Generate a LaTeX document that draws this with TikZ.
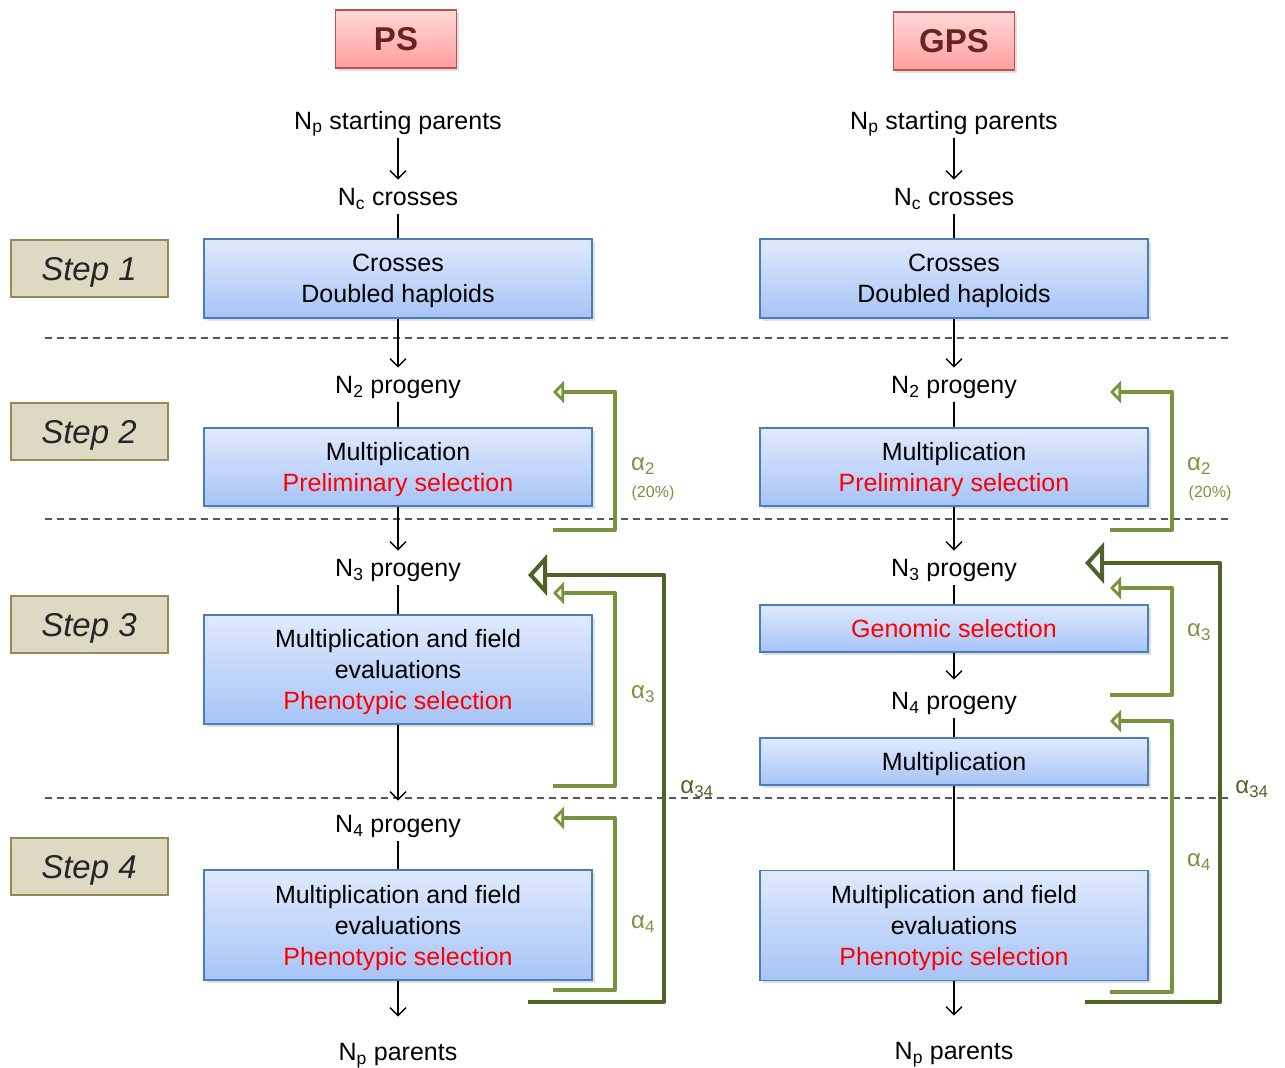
\documentclass[tikz,border=0pt]{standalone}
\usepackage{fontspec}
\setmainfont{Liberation Sans}
\usetikzlibrary{positioning,arrows.meta,shadows,calc}
\definecolor{procborder}{HTML}{4A7EBB}
\definecolor{proctop}{HTML}{E0EAFD}
\definecolor{procbottom}{HTML}{A6C4F6}
\definecolor{headborder}{HTML}{C0504D}
\definecolor{headtop}{HTML}{FFD8D8}
\definecolor{headbottom}{HTML}{FF9E9E}
\definecolor{headtext}{HTML}{6B2222}
\definecolor{stepfill}{HTML}{DDD9C3}
\definecolor{stepborder}{HTML}{948A54}
\definecolor{lightgreen}{HTML}{77933C}
\definecolor{darkgreen}{HTML}{4F6228}
\definecolor{selred}{HTML}{FF0000}

\begin{document}
\begin{tikzpicture}[x=1pt,y=-1pt,on grid,
  txt/.style={font=\fontsize{25}{31}\selectfont, inner sep=8pt, text depth=0pt},
  proc/.style={rectangle, draw=procborder, line width=1.5pt, top color=proctop, bottom color=procbottom, minimum width=388pt, align=center, text depth=0pt, font=\fontsize{25}{31}\selectfont, drop shadow={shadow xshift=2.5pt, shadow yshift=-2.5pt, opacity=0.25}},
  head/.style={rectangle, draw=headborder, line width=1.5pt, top color=headtop, bottom color=headbottom, minimum width=121pt, minimum height=58pt, text=headtext, font=\fontsize{33}{33}\selectfont\bfseries, drop shadow={shadow xshift=2.5pt, shadow yshift=-2.5pt, opacity=0.25}},
  stepbox/.style={rectangle, draw=stepborder, line width=2pt, fill=stepfill, minimum width=157pt, minimum height=57pt, text depth=0pt, text=black!85, font=\fontsize{33}{33}\selectfont\itshape},
  arr/.style={-{Straight Barb[length=8pt,width=16pt]}},
  sepline/.style={draw=black!65, line width=1.3pt, dash pattern=on 7pt off 5pt},
  fback/.style={draw=lightgreen, line width=4pt, line join=round, -{Triangle[open,length=11pt,width=22pt,line width=5pt]}},
  bigfback/.style={draw=darkgreen, line width=4pt, line join=round, -{Triangle[open,length=19pt,width=41pt]}},
  alab/.style={text=lightgreen, font=\fontsize{24}{24}\selectfont, inner sep=0pt},
  pct/.style={text=lightgreen, font=\fontsize{16}{16}\selectfont, inner sep=0pt}]
  \useasboundingbox (0,0) rectangle (1285,1068);
  \tikzset{every path/.append style={line width=1.5pt}}

  % SEPARATORS
  \draw[sepline] (45,338) -- (1232,338);
  \draw[sepline] (45,519) -- (1232,519);
  \draw[sepline] (45,798) -- (1232,798);

  % STEPS
  \node[stepbox] (step1) at (89,268.5) {Step 1};
  \node[stepbox] (step2) at (89,431.5) {Step 2};
  \node[stepbox] (step3) at (89,624.5) {Step 3};
  \node[stepbox] (step4) at (89,866.5) {Step 4};

  % PS
  \node[head] (ps) at (396,39) {PS};
  \node[txt] (npL) at (398,120) {N\textsubscript{p} starting parents};
  \node[txt, below=77pt of npL] (ncL) {N\textsubscript{c} crosses};
  \node[proc, minimum height=79pt, below=81.5pt of ncL] (box1L) {Crosses\\Doubled haploids};
  \node[txt, below=106.5pt of box1L] (n2L) {N\textsubscript{2} progeny};
  \node[proc, minimum height=78pt, below=82pt of n2L] (box2L) {Multiplication\\\textcolor{selred}{Preliminary selection}};
  \node[txt, below=101pt of box2L] (n3L) {N\textsubscript{3} progeny};
  \node[proc, minimum height=109pt, below=101.5pt of n3L] (box3L) {Multiplication and field\\evaluations\\\textcolor{selred}{Phenotypic selection}};
  \node[txt, below=154.5pt of box3L] (n4L) {N\textsubscript{4} progeny};
  \node[proc, minimum height=110pt, below=101pt of n4L] (box4L) {Multiplication and field\\evaluations\\\textcolor{selred}{Phenotypic selection}};
  \node[txt, below=127pt of box4L] (parL) {N\textsubscript{p} parents};

  % GPS
  \node[head] (gps) at (954,41) {GPS};
  \node[txt] (npR) at (954,120) {N\textsubscript{p} starting parents};
  \node[txt, below=77pt of npR] (ncR) {N\textsubscript{c} crosses};
  \node[proc, minimum height=79pt, below=81.5pt of ncR] (box1R) {Crosses\\Doubled haploids};
  \node[txt, below=106.5pt of box1R] (n2R) {N\textsubscript{2} progeny};
  \node[proc, minimum height=78pt, below=82pt of n2R] (box2R) {Multiplication\\\textcolor{selred}{Preliminary selection}};
  \node[txt, below=101pt of box2R] (n3R) {N\textsubscript{3} progeny};
  \node[proc, minimum height=47pt, below=60.5pt of n3R] (gsR) {\textcolor{selred}{Genomic selection}};
  \node[txt, below=72.5pt of gsR] (n4R) {N\textsubscript{4} progeny};
  \node[proc, minimum height=47pt, below=60.5pt of n4R] (multR) {Multiplication};
  \node[proc, minimum height=110pt, below=164pt of multR] (box4R) {Multiplication and field\\evaluations\\\textcolor{selred}{Phenotypic selection}};
  \node[txt, below=125.5pt of box4R] (parR) {N\textsubscript{p} parents};

  % FLOW PS
  \draw[arr] (npL) -- (ncL);
  \draw (ncL) -- (box1L);
  \draw[arr] (box1L) -- (n2L);
  \draw (n2L) -- (box2L);
  \draw[arr] (box2L) -- (n3L);
  \draw (n3L) -- (box3L);
  \draw[arr, shorten >=6pt] (box3L) -- (n4L);
  \draw (n4L) -- (box4L);
  \draw[arr, shorten >=18pt] (box4L) -- (parL);

  % FLOW GPS
  \draw[arr] (npR) -- (ncR);
  \draw (ncR) -- (box1R);
  \draw[arr] (box1R) -- (n2R);
  \draw (n2R) -- (box2R);
  \draw[arr] (box2R) -- (n3R);
  \draw (n3R) -- (gsR);
  \draw[arr, shorten >=4pt] (gsR) -- (n4R);
  \draw (n4R) -- (multR);
  \draw (multR) -- (box4R);
  \draw[arr, shorten >=18pt] (box4R) -- (parR);

  % SELECTION RATES PS
  \coordinate (a2Lin) at (553,530);   \coordinate (a2Lout) at (553,392);
  \coordinate (a3Lin) at (553,786);   \coordinate (a3Lout) at (553,593);
  \coordinate (a4Lin) at (553,990);   \coordinate (a4Lout) at (553,818);
  \coordinate (a34Lin) at (528,1002); \coordinate (a34Lout) at (528,575);
  \draw[fback] (a2Lin) -- ++(62,0) |- (a2Lout);
  \draw[fback] (a3Lin) -- ++(62,0) |- (a3Lout);
  \draw[fback] (a4Lin) -- ++(62,0) |- (a4Lout);
  \draw[bigfback] (a34Lin) -- ++(136,0) |- (a34Lout);
  \node[alab] (a2L) at (643,466) {α\textsubscript{2}};
  \node[pct] (p2L) at (653,493) {(20\%)};
  \node[alab] (a3L) at (643,694) {α\textsubscript{3}};
  \node[alab] (a4L) at (643,924) {α\textsubscript{4}};
  \node[alab, text=darkgreen] (a34L) at (697,789) {α\textsubscript{34}};

  % SELECTION RATES GPS
  \coordinate (a2Rin) at (1110,530);   \coordinate (a2Rout) at (1110,392);
  \coordinate (a3Rin) at (1110,695);   \coordinate (a3Rout) at (1110,588);
  \coordinate (a4Rin) at (1110,992);   \coordinate (a4Rout) at (1110,721);
  \coordinate (a34Rin) at (1085,1002); \coordinate (a34Rout) at (1085,563);
  \draw[fback] (a2Rin) -- ++(62,0) |- (a2Rout);
  \draw[fback] (a3Rin) -- ++(62,0) |- (a3Rout);
  \draw[fback] (a4Rin) -- ++(62,0) |- (a4Rout);
  \draw[bigfback] (a34Rin) -- ++(135,0) |- (a34Rout);
  \node[alab] (a2R) at (1199,466) {α\textsubscript{2}};
  \node[pct] (p2R) at (1210,493) {(20\%)};
  \node[alab] (a3R) at (1199,632) {α\textsubscript{3}};
  \node[alab] (a4R) at (1199,862) {α\textsubscript{4}};
  \node[alab, text=darkgreen] (a34R) at (1252,789) {α\textsubscript{34}};
\end{tikzpicture}
\end{document}
